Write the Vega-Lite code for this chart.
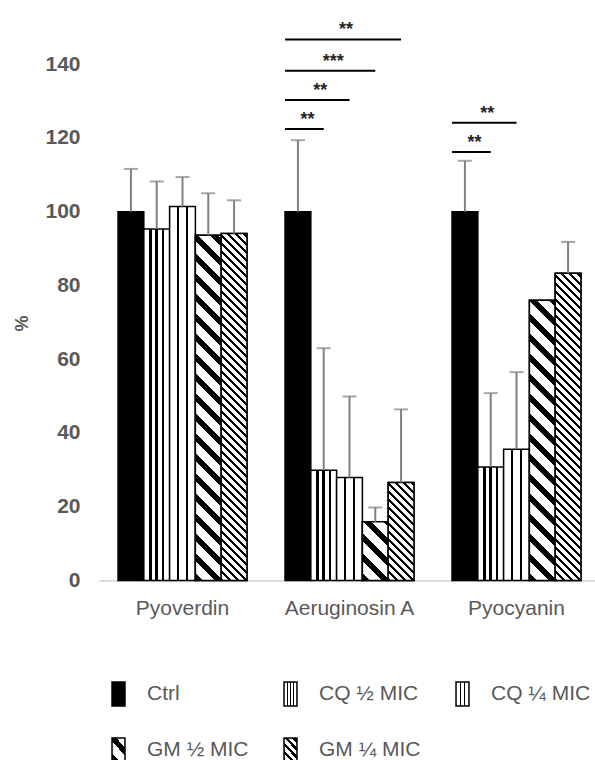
{
  "$schema": "https://vega.github.io/schema/vega-lite/v6.json",
  "width": 501,
  "height": 579,
  "autosize": {"type": "none"},
  "padding": {"left": 99, "top": 1.5, "right": 0, "bottom": 179.5},
  "background": "white",
  "config": {"view": {"stroke": null}, "font": "Liberation Sans"},
  "params": [
    {"name": "cq2", "value": [
      {"offset": 0, "color": "#fff"}, {"offset": 0.2, "color": "#fff"}, {"offset": 0.2, "color": "#000"}, {"offset": 0.3, "color": "#000"}, {"offset": 0.3, "color": "#fff"},
      {"offset": 0.45, "color": "#fff"}, {"offset": 0.45, "color": "#000"}, {"offset": 0.55, "color": "#000"}, {"offset": 0.55, "color": "#fff"},
      {"offset": 0.7, "color": "#fff"}, {"offset": 0.7, "color": "#000"}, {"offset": 0.8, "color": "#000"}, {"offset": 0.8, "color": "#fff"}, {"offset": 1, "color": "#fff"}
    ]},
    {"name": "cq4", "value": [
      {"offset": 0, "color": "#fff"}, {"offset": 0.3, "color": "#fff"}, {"offset": 0.3, "color": "#000"}, {"offset": 0.37, "color": "#000"}, {"offset": 0.37, "color": "#fff"},
      {"offset": 0.63, "color": "#fff"}, {"offset": 0.63, "color": "#000"}, {"offset": 0.7, "color": "#000"}, {"offset": 0.7, "color": "#fff"}, {"offset": 1, "color": "#fff"}
    ]},
    {"name": "gm2", "value": [
      {"offset": 0, "color": "#000"}, {"offset": 0.02, "color": "#000"}, {"offset": 0.02, "color": "#fff"}, {"offset": 0.05, "color": "#fff"},
      {"offset": 0.05, "color": "#000"}, {"offset": 0.07, "color": "#000"}, {"offset": 0.07, "color": "#fff"}, {"offset": 0.1, "color": "#fff"},
      {"offset": 0.1, "color": "#000"}, {"offset": 0.12, "color": "#000"}, {"offset": 0.12, "color": "#fff"}, {"offset": 0.15, "color": "#fff"},
      {"offset": 0.15, "color": "#000"}, {"offset": 0.17, "color": "#000"}, {"offset": 0.17, "color": "#fff"}, {"offset": 0.2, "color": "#fff"},
      {"offset": 0.2, "color": "#000"}, {"offset": 0.22, "color": "#000"}, {"offset": 0.22, "color": "#fff"}, {"offset": 0.25, "color": "#fff"},
      {"offset": 0.25, "color": "#000"}, {"offset": 0.27, "color": "#000"}, {"offset": 0.27, "color": "#fff"}, {"offset": 0.3, "color": "#fff"},
      {"offset": 0.3, "color": "#000"}, {"offset": 0.32, "color": "#000"}, {"offset": 0.32, "color": "#fff"}, {"offset": 0.35, "color": "#fff"},
      {"offset": 0.35, "color": "#000"}, {"offset": 0.37, "color": "#000"}, {"offset": 0.37, "color": "#fff"}, {"offset": 0.4, "color": "#fff"},
      {"offset": 0.4, "color": "#000"}, {"offset": 0.42, "color": "#000"}, {"offset": 0.42, "color": "#fff"}, {"offset": 0.45, "color": "#fff"},
      {"offset": 0.45, "color": "#000"}, {"offset": 0.47, "color": "#000"}, {"offset": 0.47, "color": "#fff"}, {"offset": 0.5, "color": "#fff"},
      {"offset": 0.5, "color": "#000"}, {"offset": 0.52, "color": "#000"}, {"offset": 0.52, "color": "#fff"}, {"offset": 0.55, "color": "#fff"},
      {"offset": 0.55, "color": "#000"}, {"offset": 0.57, "color": "#000"}, {"offset": 0.57, "color": "#fff"}, {"offset": 0.6, "color": "#fff"},
      {"offset": 0.6, "color": "#000"}, {"offset": 0.62, "color": "#000"}, {"offset": 0.62, "color": "#fff"}, {"offset": 0.65, "color": "#fff"},
      {"offset": 0.65, "color": "#000"}, {"offset": 0.67, "color": "#000"}, {"offset": 0.67, "color": "#fff"}, {"offset": 0.7, "color": "#fff"},
      {"offset": 0.7, "color": "#000"}, {"offset": 0.72, "color": "#000"}, {"offset": 0.72, "color": "#fff"}, {"offset": 0.75, "color": "#fff"},
      {"offset": 0.75, "color": "#000"}, {"offset": 0.77, "color": "#000"}, {"offset": 0.77, "color": "#fff"}, {"offset": 0.8, "color": "#fff"},
      {"offset": 0.8, "color": "#000"}, {"offset": 0.82, "color": "#000"}, {"offset": 0.82, "color": "#fff"}, {"offset": 0.85, "color": "#fff"},
      {"offset": 0.85, "color": "#000"}, {"offset": 0.87, "color": "#000"}, {"offset": 0.87, "color": "#fff"}, {"offset": 0.9, "color": "#fff"},
      {"offset": 0.9, "color": "#000"}, {"offset": 0.92, "color": "#000"}, {"offset": 0.92, "color": "#fff"}, {"offset": 0.95, "color": "#fff"},
      {"offset": 0.95, "color": "#000"}, {"offset": 0.97, "color": "#000"}, {"offset": 0.97, "color": "#fff"}, {"offset": 1, "color": "#fff"}
    ]},
    {"name": "gm4", "value": [
      {"offset": 0, "color": "#000"}, {"offset": 0.008, "color": "#000"}, {"offset": 0.008, "color": "#fff"}, {"offset": 0.02, "color": "#fff"},
      {"offset": 0.02, "color": "#000"}, {"offset": 0.028, "color": "#000"}, {"offset": 0.028, "color": "#fff"}, {"offset": 0.04, "color": "#fff"},
      {"offset": 0.04, "color": "#000"}, {"offset": 0.048, "color": "#000"}, {"offset": 0.048, "color": "#fff"}, {"offset": 0.06, "color": "#fff"},
      {"offset": 0.06, "color": "#000"}, {"offset": 0.068, "color": "#000"}, {"offset": 0.068, "color": "#fff"}, {"offset": 0.08, "color": "#fff"},
      {"offset": 0.08, "color": "#000"}, {"offset": 0.088, "color": "#000"}, {"offset": 0.088, "color": "#fff"}, {"offset": 0.1, "color": "#fff"},
      {"offset": 0.1, "color": "#000"}, {"offset": 0.108, "color": "#000"}, {"offset": 0.108, "color": "#fff"}, {"offset": 0.12, "color": "#fff"},
      {"offset": 0.12, "color": "#000"}, {"offset": 0.128, "color": "#000"}, {"offset": 0.128, "color": "#fff"}, {"offset": 0.14, "color": "#fff"},
      {"offset": 0.14, "color": "#000"}, {"offset": 0.148, "color": "#000"}, {"offset": 0.148, "color": "#fff"}, {"offset": 0.16, "color": "#fff"},
      {"offset": 0.16, "color": "#000"}, {"offset": 0.168, "color": "#000"}, {"offset": 0.168, "color": "#fff"}, {"offset": 0.18, "color": "#fff"},
      {"offset": 0.18, "color": "#000"}, {"offset": 0.188, "color": "#000"}, {"offset": 0.188, "color": "#fff"}, {"offset": 0.2, "color": "#fff"},
      {"offset": 0.2, "color": "#000"}, {"offset": 0.208, "color": "#000"}, {"offset": 0.208, "color": "#fff"}, {"offset": 0.22, "color": "#fff"},
      {"offset": 0.22, "color": "#000"}, {"offset": 0.228, "color": "#000"}, {"offset": 0.228, "color": "#fff"}, {"offset": 0.24, "color": "#fff"},
      {"offset": 0.24, "color": "#000"}, {"offset": 0.248, "color": "#000"}, {"offset": 0.248, "color": "#fff"}, {"offset": 0.26, "color": "#fff"},
      {"offset": 0.26, "color": "#000"}, {"offset": 0.268, "color": "#000"}, {"offset": 0.268, "color": "#fff"}, {"offset": 0.28, "color": "#fff"},
      {"offset": 0.28, "color": "#000"}, {"offset": 0.288, "color": "#000"}, {"offset": 0.288, "color": "#fff"}, {"offset": 0.3, "color": "#fff"},
      {"offset": 0.3, "color": "#000"}, {"offset": 0.308, "color": "#000"}, {"offset": 0.308, "color": "#fff"}, {"offset": 0.32, "color": "#fff"},
      {"offset": 0.32, "color": "#000"}, {"offset": 0.328, "color": "#000"}, {"offset": 0.328, "color": "#fff"}, {"offset": 0.34, "color": "#fff"},
      {"offset": 0.34, "color": "#000"}, {"offset": 0.348, "color": "#000"}, {"offset": 0.348, "color": "#fff"}, {"offset": 0.36, "color": "#fff"},
      {"offset": 0.36, "color": "#000"}, {"offset": 0.368, "color": "#000"}, {"offset": 0.368, "color": "#fff"}, {"offset": 0.38, "color": "#fff"},
      {"offset": 0.38, "color": "#000"}, {"offset": 0.388, "color": "#000"}, {"offset": 0.388, "color": "#fff"}, {"offset": 0.4, "color": "#fff"},
      {"offset": 0.4, "color": "#000"}, {"offset": 0.408, "color": "#000"}, {"offset": 0.408, "color": "#fff"}, {"offset": 0.42, "color": "#fff"},
      {"offset": 0.42, "color": "#000"}, {"offset": 0.428, "color": "#000"}, {"offset": 0.428, "color": "#fff"}, {"offset": 0.44, "color": "#fff"},
      {"offset": 0.44, "color": "#000"}, {"offset": 0.448, "color": "#000"}, {"offset": 0.448, "color": "#fff"}, {"offset": 0.46, "color": "#fff"},
      {"offset": 0.46, "color": "#000"}, {"offset": 0.468, "color": "#000"}, {"offset": 0.468, "color": "#fff"}, {"offset": 0.48, "color": "#fff"},
      {"offset": 0.48, "color": "#000"}, {"offset": 0.488, "color": "#000"}, {"offset": 0.488, "color": "#fff"}, {"offset": 0.5, "color": "#fff"},
      {"offset": 0.5, "color": "#000"}, {"offset": 0.508, "color": "#000"}, {"offset": 0.508, "color": "#fff"}, {"offset": 0.52, "color": "#fff"},
      {"offset": 0.52, "color": "#000"}, {"offset": 0.528, "color": "#000"}, {"offset": 0.528, "color": "#fff"}, {"offset": 0.54, "color": "#fff"},
      {"offset": 0.54, "color": "#000"}, {"offset": 0.548, "color": "#000"}, {"offset": 0.548, "color": "#fff"}, {"offset": 0.56, "color": "#fff"},
      {"offset": 0.56, "color": "#000"}, {"offset": 0.568, "color": "#000"}, {"offset": 0.568, "color": "#fff"}, {"offset": 0.58, "color": "#fff"},
      {"offset": 0.58, "color": "#000"}, {"offset": 0.588, "color": "#000"}, {"offset": 0.588, "color": "#fff"}, {"offset": 0.6, "color": "#fff"},
      {"offset": 0.6, "color": "#000"}, {"offset": 0.608, "color": "#000"}, {"offset": 0.608, "color": "#fff"}, {"offset": 0.62, "color": "#fff"},
      {"offset": 0.62, "color": "#000"}, {"offset": 0.628, "color": "#000"}, {"offset": 0.628, "color": "#fff"}, {"offset": 0.64, "color": "#fff"},
      {"offset": 0.64, "color": "#000"}, {"offset": 0.648, "color": "#000"}, {"offset": 0.648, "color": "#fff"}, {"offset": 0.66, "color": "#fff"},
      {"offset": 0.66, "color": "#000"}, {"offset": 0.668, "color": "#000"}, {"offset": 0.668, "color": "#fff"}, {"offset": 0.68, "color": "#fff"},
      {"offset": 0.68, "color": "#000"}, {"offset": 0.688, "color": "#000"}, {"offset": 0.688, "color": "#fff"}, {"offset": 0.7, "color": "#fff"},
      {"offset": 0.7, "color": "#000"}, {"offset": 0.708, "color": "#000"}, {"offset": 0.708, "color": "#fff"}, {"offset": 0.72, "color": "#fff"},
      {"offset": 0.72, "color": "#000"}, {"offset": 0.728, "color": "#000"}, {"offset": 0.728, "color": "#fff"}, {"offset": 0.74, "color": "#fff"},
      {"offset": 0.74, "color": "#000"}, {"offset": 0.748, "color": "#000"}, {"offset": 0.748, "color": "#fff"}, {"offset": 0.76, "color": "#fff"},
      {"offset": 0.76, "color": "#000"}, {"offset": 0.768, "color": "#000"}, {"offset": 0.768, "color": "#fff"}, {"offset": 0.78, "color": "#fff"},
      {"offset": 0.78, "color": "#000"}, {"offset": 0.788, "color": "#000"}, {"offset": 0.788, "color": "#fff"}, {"offset": 0.8, "color": "#fff"},
      {"offset": 0.8, "color": "#000"}, {"offset": 0.808, "color": "#000"}, {"offset": 0.808, "color": "#fff"}, {"offset": 0.82, "color": "#fff"},
      {"offset": 0.82, "color": "#000"}, {"offset": 0.828, "color": "#000"}, {"offset": 0.828, "color": "#fff"}, {"offset": 0.84, "color": "#fff"},
      {"offset": 0.84, "color": "#000"}, {"offset": 0.848, "color": "#000"}, {"offset": 0.848, "color": "#fff"}, {"offset": 0.86, "color": "#fff"},
      {"offset": 0.86, "color": "#000"}, {"offset": 0.868, "color": "#000"}, {"offset": 0.868, "color": "#fff"}, {"offset": 0.88, "color": "#fff"},
      {"offset": 0.88, "color": "#000"}, {"offset": 0.888, "color": "#000"}, {"offset": 0.888, "color": "#fff"}, {"offset": 0.9, "color": "#fff"},
      {"offset": 0.9, "color": "#000"}, {"offset": 0.908, "color": "#000"}, {"offset": 0.908, "color": "#fff"}, {"offset": 0.92, "color": "#fff"},
      {"offset": 0.92, "color": "#000"}, {"offset": 0.928, "color": "#000"}, {"offset": 0.928, "color": "#fff"}, {"offset": 0.94, "color": "#fff"},
      {"offset": 0.94, "color": "#000"}, {"offset": 0.948, "color": "#000"}, {"offset": 0.948, "color": "#fff"}, {"offset": 0.96, "color": "#fff"},
      {"offset": 0.96, "color": "#000"}, {"offset": 0.968, "color": "#000"}, {"offset": 0.968, "color": "#fff"}, {"offset": 0.98, "color": "#fff"},
      {"offset": 0.98, "color": "#000"}, {"offset": 0.988, "color": "#000"}, {"offset": 0.988, "color": "#fff"}, {"offset": 1, "color": "#fff"}
    ]}
  ],
  "datasets": {
    "bars": [
      {"group": "Pyoverdin", "series": "Ctrl", "value": 100, "upper": 111.6},
      {"group": "Pyoverdin", "series": "CQ ½ MIC", "value": 95.3, "upper": 108.2},
      {"group": "Pyoverdin", "series": "CQ ¼ MIC", "value": 101.4, "upper": 109.4},
      {"group": "Pyoverdin", "series": "GM ½ MIC", "value": 93.6, "upper": 105},
      {"group": "Pyoverdin", "series": "GM ¼ MIC", "value": 94.1, "upper": 103.1},
      {"group": "Aeruginosin A", "series": "Ctrl", "value": 100, "upper": 119.4},
      {"group": "Aeruginosin A", "series": "CQ ½ MIC", "value": 29.9, "upper": 63},
      {"group": "Aeruginosin A", "series": "CQ ¼ MIC", "value": 27.9, "upper": 49.9},
      {"group": "Aeruginosin A", "series": "GM ½ MIC", "value": 15.9, "upper": 19.8},
      {"group": "Aeruginosin A", "series": "GM ¼ MIC", "value": 26.6, "upper": 46.4},
      {"group": "Pyocyanin", "series": "Ctrl", "value": 100, "upper": 113.8},
      {"group": "Pyocyanin", "series": "CQ ½ MIC", "value": 30.8, "upper": 50.8},
      {"group": "Pyocyanin", "series": "CQ ¼ MIC", "value": 35.6, "upper": 56.5},
      {"group": "Pyocyanin", "series": "GM ½ MIC", "value": 76, "upper": 76},
      {"group": "Pyocyanin", "series": "GM ¼ MIC", "value": 83.3, "upper": 91.8}
    ],
    "sig": [
      {"group": "Aeruginosin A", "to": "CQ ½ MIC", "level": 122.4, "label": "**"},
      {"group": "Aeruginosin A", "to": "CQ ¼ MIC", "level": 130.3, "label": "**"},
      {"group": "Aeruginosin A", "to": "GM ½ MIC", "level": 138.2, "label": "***"},
      {"group": "Aeruginosin A", "to": "GM ¼ MIC", "level": 146.7, "label": "**"},
      {"group": "Pyocyanin", "to": "CQ ½ MIC", "level": 116.2, "label": "**"},
      {"group": "Pyocyanin", "to": "CQ ¼ MIC", "level": 124.1, "label": "**"}
    ]
  },
  "layer": [
    {
      "data": {"name": "bars"},
      "mark": {"type": "bar", "stroke": "#000", "strokeWidth": 1.5},
      "encoding": {
        "x": {"field": "group", "type": "nominal",
          "scale": {"domain": ["Pyoverdin", "Aeruginosin A", "Pyocyanin"], "paddingInner": 0.228, "paddingOuter": 0.114},
          "axis": {"title": null, "labelAngle": 0, "ticks": false, "tickSize": 0, "labelPadding": 17, "labelFontSize": 21, "labelColor": "#595959", "labelFont": "Liberation Sans", "domainColor": "#d0d0d0", "domainWidth": 1.5}},
        "xOffset": {"field": "series", "type": "nominal",
          "scale": {"domain": ["Ctrl", "CQ ½ MIC", "CQ ¼ MIC", "GM ½ MIC", "GM ¼ MIC"], "paddingInner": 0, "paddingOuter": 0}},
        "y": {"field": "value", "type": "quantitative",
          "scale": {"domain": [0, 157], "nice": false},
          "axis": {"title": "%", "values": [0, 20, 40, 60, 80, 100, 120, 140], "grid": false, "domain": false, "ticks": false, "tickSize": 0, "labelPadding": 19, "labelFontSize": 21, "labelFontWeight": "bold", "labelColor": "#595959", "labelFont": "Liberation Sans", "titleFontSize": 18, "titleFontWeight": "bold", "titleColor": "#595959", "titleFont": "Liberation Sans", "titleAngle": -90, "titleX": -77, "titleY": 321.5, "titleAlign": "center", "titleBaseline": "middle"}},
        "fill": {"field": "series", "type": "nominal",
          "scale": {"domain": ["Ctrl", "CQ ½ MIC", "CQ ¼ MIC", "GM ½ MIC", "GM ¼ MIC"],
            "range": [
              "#000",
              {"expr": "{gradient: 'linear', x1: 0, y1: 0, x2: 1, y2: 0, stops: cq2}"},
              {"expr": "{gradient: 'linear', x1: 0, y1: 0, x2: 1, y2: 0, stops: cq4}"},
              {"expr": "{gradient: 'linear', x1: 0, y1: 1, x2: 6.98, y2: -11.886, stops: gm2}"},
              {"expr": "{gradient: 'linear', x1: 0, y1: 1, x2: 6.98, y2: -11.886, stops: gm4}"}
            ]},
          "legend": {"orient": "none", "legendX": 6.5, "legendY": 679.5, "direction": "horizontal", "columns": 3, "title": null,
            "symbolType": "M-0.54,-1H0.54V1H-0.54Z", "symbolSize": 576, "symbolStrokeColor": "#000", "symbolStrokeWidth": 1.5,
            "labelFont": "Liberation Sans", "labelFontSize": 21, "labelColor": "#595959", "labelOffset": 15.5,
            "rowPadding": 26, "columnPadding": 28, "gridAlign": "all", "padding": 0}}
      }
    },
    {
      "data": {"name": "bars"},
      "transform": [{"filter": "datum.series === 'GM ½ MIC' || datum.series === 'GM ¼ MIC'"}],
      "mark": {"type": "bar", "stroke": "#000", "strokeWidth": 1.5,
        "fill": {"expr": "{gradient: 'linear', x1: 0, y1: 1, x2: bandwidth('xOffset') * 400 / (pow(bandwidth('xOffset'), 2) + pow(scale('y', 0) - scale('y', datum.value), 2)), y2: 1 - (scale('y', 0) - scale('y', datum.value)) * 400 / (pow(bandwidth('xOffset'), 2) + pow(scale('y', 0) - scale('y', datum.value), 2)), stops: datum.series === 'GM ½ MIC' ? gm2 : gm4}"}},
      "encoding": {
        "x": {"field": "group", "type": "nominal", "scale": {"domain": ["Pyoverdin", "Aeruginosin A", "Pyocyanin"]}},
        "xOffset": {"field": "series", "type": "nominal", "scale": {"domain": ["Ctrl", "CQ ½ MIC", "CQ ¼ MIC", "GM ½ MIC", "GM ¼ MIC"]}},
        "y": {"field": "value", "type": "quantitative"}
      }
    },
    {
      "data": {"name": "bars"},
      "mark": {"type": "rule", "color": "#808080", "strokeWidth": 2},
      "encoding": {
        "x": {"field": "group", "type": "nominal", "scale": {"domain": ["Pyoverdin", "Aeruginosin A", "Pyocyanin"]}},
        "xOffset": {"field": "series", "type": "nominal", "scale": {"domain": ["Ctrl", "CQ ½ MIC", "CQ ¼ MIC", "GM ½ MIC", "GM ¼ MIC"]}},
        "y": {"field": "value", "type": "quantitative"},
        "y2": {"field": "upper"}
      }
    },
    {
      "data": {"name": "bars"},
      "transform": [{"filter": "datum.upper > datum.value"}],
      "mark": {"type": "tick", "color": "#808080", "thickness": 2, "size": 14},
      "encoding": {
        "x": {"field": "group", "type": "nominal", "scale": {"domain": ["Pyoverdin", "Aeruginosin A", "Pyocyanin"]}},
        "xOffset": {"field": "series", "type": "nominal", "scale": {"domain": ["Ctrl", "CQ ½ MIC", "CQ ¼ MIC", "GM ½ MIC", "GM ¼ MIC"]}},
        "y": {"field": "upper", "type": "quantitative"}
      }
    },
    {
      "data": {"name": "sig"},
      "mark": {"type": "rule", "color": "#000", "strokeWidth": 2,
        "x": {"expr": "scale('x', datum.group) + scale('xOffset', 'Ctrl')"},
        "x2": {"expr": "scale('x', datum.group) + scale('xOffset', datum.to) + bandwidth('xOffset') / 2"}},
      "encoding": {
        "y": {"field": "level", "type": "quantitative"}
      }
    },
    {
      "data": {"name": "sig"},
      "mark": {"type": "text", "fontSize": 18, "fontWeight": "bold", "color": "#262626", "baseline": "alphabetic", "align": "center", "dy": -4, "font": "Liberation Sans",
        "x": {"expr": "scale('x', datum.group) + (2 * scale('xOffset', 'Ctrl') + scale('xOffset', datum.to) + bandwidth('xOffset') / 2) / 2 - scale('xOffset', 'Ctrl') / 2 + 3"}},
      "encoding": {
        "y": {"field": "level", "type": "quantitative"},
        "text": {"field": "label"}
      }
    }
  ]
}
